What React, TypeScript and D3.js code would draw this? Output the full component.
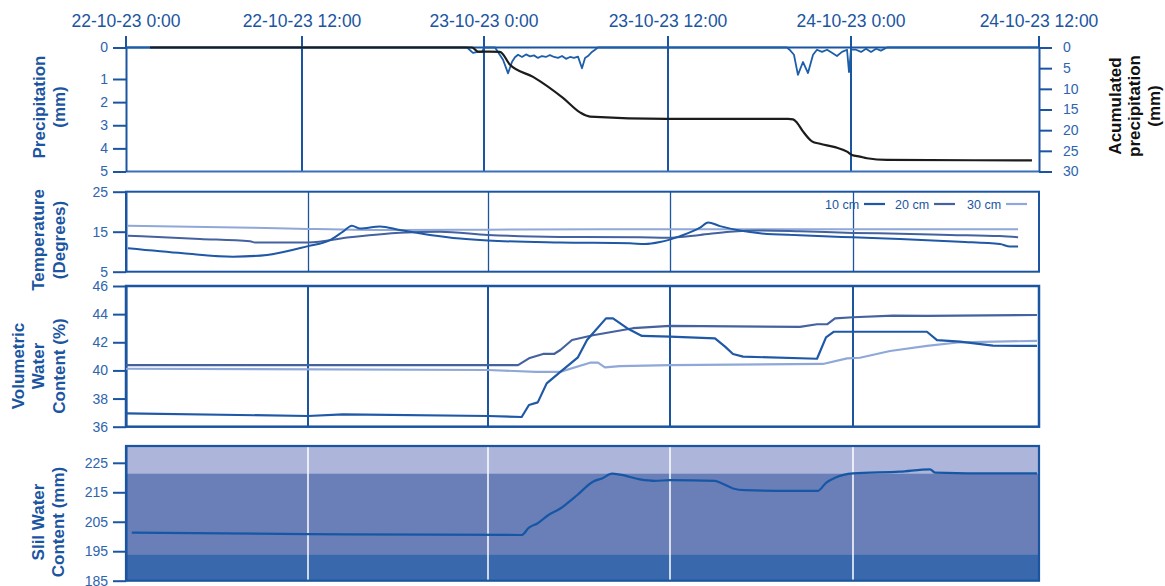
import { useEffect, useRef } from "react";
import * as d3 from "d3";

type Pt = [number, number]; // [hours since 22-10-23 0:00, value]

const timeTicks = [0, 12, 24, 36, 48, 60];
const timeLabels = [
  "22-10-23 0:00",
  "22-10-23 12:00",
  "23-10-23 0:00",
  "23-10-23 12:00",
  "24-10-23 0:00",
  "24-10-23 12:00",
];

// precipitation per interval (mm)
const precipitation: Pt[] = [
  [0, 0], [22.88, 0], [23.27, 0.17], [23.6, 0.14], [23.87, 0.15], [24, 0], [24.72, 0],
  [25.24, 0.39], [25.57, 0.82], [25.83, 0.45], [26.02, 0.31], [26.22, 0.23], [26.48, 0.3],
  [26.74, 0.22], [27.0, 0.28], [27.26, 0.25], [27.52, 0.33], [27.78, 0.27], [28.04, 0.3],
  [28.3, 0.24], [28.57, 0.3], [28.83, 0.33], [29.09, 0.27], [29.35, 0.36], [29.61, 0.3],
  [29.87, 0.33], [30.13, 0.29], [30.39, 0.66], [30.59, 0.33], [30.78, 0.27], [31.04, 0.14],
  [31.24, 0.07], [31.43, 0], [43.8, 0], [43.97, 0.07], [44.26, 0.23], [44.52, 0.87],
  [44.85, 0.46], [45.18, 0.81], [45.51, 0.23], [45.77, 0.07], [46.1, 0.14], [46.43, 0.07],
  [46.75, 0.17], [47.08, 0.27], [47.41, 0.14], [47.74, 0.07], [47.87, 0.78], [48.0, 0.07],
  [48.32, 0.07], [48.64, 0.14], [48.96, 0.04], [49.28, 0.14], [49.6, 0.04], [49.91, 0.1],
  [50.3, 0], [60, 0],
];

// accumulated precipitation (mm)
const accumulated: Pt[] = [
  [1.64, 0], [23.21, 0], [23.6, 1.0], [25.04, 1.04], [25.7, 4.2], [27.2, 7.1], [29.15, 12.2],
  [30.26, 15.7], [30.91, 16.7], [35.93, 17.25], [43.87, 17.25], [44.2, 17.4], [44.46, 18.2],
  [44.85, 20.3], [45.44, 22.7], [45.97, 23.3], [46.95, 24.1], [47.74, 25.2], [48.06, 26.0],
  [48.57, 26.4], [49.02, 26.8], [50.3, 27.2], [59.55, 27.3],
];

// soil temperature (degrees)
const temp10: Pt[] = [
  [0.13, 10.85], [3.76, 9.6], [7.05, 8.75], [9.3, 9.2], [12, 11.4], [13.47, 12.9], [14.33, 15.0],
  [14.93, 16.5], [15.47, 15.8], [16.8, 16.3], [18.13, 15.4], [20.13, 14.2], [22.13, 13.3],
  [24, 12.8], [28.75, 12.3], [33.36, 12.1], [34.35, 11.9], [35.34, 12.4], [36.66, 13.9],
  [37.97, 16.0], [38.5, 17.3], [39.28, 16.4], [40.59, 15.3], [41.9, 14.6], [44.52, 14.1],
  [48, 13.6], [51.03, 13.2], [54.9, 12.5], [57.48, 11.9], [58.13, 11.3], [58.65, 11.3],
];
const temp20: Pt[] = [
  [0.13, 14.0], [4.88, 13.2], [8.18, 12.6], [8.51, 12.3], [12, 12.3], [14.8, 13.6],
  [18.13, 14.75], [20.8, 15.0], [24, 14.2], [28.75, 13.7], [34.02, 13.6], [35.87, 13.5],
  [37.97, 14.2], [39.93, 15.0], [41.9, 15.3], [44.52, 15.1], [48, 14.7], [51.03, 14.5],
  [54.26, 14.2], [57.48, 13.9], [58.65, 13.6],
];
const temp30: Pt[] = [
  [0.13, 16.5], [8.37, 16.0], [12, 15.7], [18.13, 15.4], [24, 15.5], [31.38, 15.6],
  [37.97, 15.6], [48, 15.6], [58.65, 15.6],
];

// volumetric water content (%)
const vwc10: Pt[] = [
  [0, 36.95], [12, 36.76], [14.33, 36.88], [24, 36.76], [26.22, 36.69], [26.7, 37.54],
  [27.28, 37.73], [27.87, 39.08], [28.77, 39.9], [29.93, 40.93], [30.53, 42.16], [31.78, 43.7],
  [32.24, 43.7], [33.17, 43.0], [34.15, 42.45], [36, 42.4], [38.95, 42.28], [39.61, 41.69],
  [40.13, 41.17], [40.79, 40.98], [45.64, 40.83], [46.23, 42.35], [46.75, 42.75], [52.77, 42.75],
  [53.42, 42.16], [54.9, 42.04], [57.03, 41.76], [59.87, 41.74],
];
const vwc20: Pt[] = [
  [0, 40.38], [25.98, 40.38], [26.7, 40.86], [27.63, 41.17], [28.35, 41.17], [28.77, 41.45],
  [29.54, 42.16], [30.92, 42.5], [33.56, 43.0], [36, 43.16], [44.52, 43.1], [45.64, 43.28],
  [46.3, 43.28], [46.82, 43.7], [48, 43.78], [50.58, 43.9], [52.77, 43.87], [59.87, 43.94],
];
const vwc30: Pt[] = [
  [0, 40.12], [24, 40.03], [27.16, 39.9], [28.75, 39.9], [30.73, 40.55], [31.25, 40.55],
  [31.71, 40.22], [32.7, 40.3], [36, 40.38], [46.03, 40.46], [47.61, 40.86], [48.45, 40.9],
  [50.39, 41.38], [52.77, 41.74], [54.9, 42.0], [59.87, 42.1],
];

// soil water content (mm)
const soilWater: Pt[] = [
  [0.38, 201.3], [12, 200.8], [26.22, 200.5], [26.7, 203], [27.28, 204.5], [27.99, 207.3],
  [28.77, 209.5], [29.21, 211.2], [29.87, 214], [30.92, 218.6], [31.52, 219.7], [32.18, 221.3],
  [32.7, 221], [34.02, 219.4], [35.01, 218.9], [36, 219.1], [38.95, 218.9], [39.41, 218],
  [40.13, 216.3], [40.92, 215.7], [43.87, 215.5], [45.7, 215.5], [46.23, 218.2], [46.82, 219.9],
  [48, 221.4], [51.03, 222], [52.97, 222.8], [53.29, 221.7], [57.48, 221.4], [59.87, 221.4],
];
const fieldCapacity = 221.4;
const wiltingPoint = 194;

const seriesNames = ["10 cm", "20 cm", "30 cm"];

const FONT = "'Liberation Sans', Arial, sans-serif";
const BLUE = "#1b55a1";
const TICK_TEXT = "#2d64ae";
const SERIES_COLORS = ["#1f58a6", "#44629f", "#8fa8d8"];

const W = 1165;
const H = 586;

export default function App() {
  const svgRef = useRef<SVGSVGElement>(null);

  useEffect(() => {
    if (!svgRef.current) return;
    const svg = d3.select(svgRef.current);
    svg.selectAll("*").remove();

    const left = 126;
    const right = 1039;
    const intFmt = d3.format("d");

    // top panel and lower panels were laid out a little differently in the original
    const xTop = d3.scaleLinear().domain(timeTicks).range([left, 302, 484, 668, 851, right]);
    const xLow = d3.scaleLinear().domain(timeTicks).range([left, 308, 488, 670, 853, right]);

    const styleAxis = (g: d3.Selection<SVGGElement, unknown, null, undefined>) => {
      g.attr("font-size", 14).attr("font-family", FONT);
      g.select(".domain").attr("stroke", BLUE).attr("stroke-width", 2);
      g.selectAll(".tick line").attr("stroke", BLUE).attr("stroke-width", 2);
      g.selectAll(".tick text").attr("fill", TICK_TEXT);
    };

    const addTitle = (lines: string[], xs: number[], cy: number, color: string) => {
      lines.forEach((t, i) => {
        svg
          .append("text")
          .attr("transform", `translate(${xs[i]},${cy}) rotate(-90)`)
          .attr("text-anchor", "middle")
          .attr("font-family", FONT)
          .attr("font-weight", "bold")
          .attr("font-size", 17)
          .attr("fill", color)
          .text(t);
      });
    };

    // time labels on top
    svg
      .append("g")
      .selectAll("text")
      .data(timeTicks)
      .join("text")
      .attr("x", (d) => xTop(d))
      .attr("y", 27)
      .attr("text-anchor", "middle")
      .attr("font-family", FONT)
      .attr("font-size", 17.5)
      .attr("fill", BLUE)
      .text((d, i) => timeLabels[i]);

    // ---------- panel 1: precipitation ----------
    const p1Top = 47.5;
    const p1Bottom = 171.5;
    const yPrecip = d3.scaleLinear().domain([0, 1, 5]).range([p1Top, 79, p1Bottom]);
    const yAccum = d3.scaleLinear().domain([0, 30]).range([p1Top, p1Bottom]);

    const p1 = svg.append("g");
    p1.selectAll(".tmark")
      .data(timeTicks)
      .join("line")
      .attr("x1", (d) => xTop(d))
      .attr("x2", (d) => xTop(d))
      .attr("y1", 36)
      .attr("y2", (d) => (d === 0 || d === 60 ? p1Top : p1Bottom))
      .attr("stroke", BLUE)
      .attr("stroke-width", 2);
    p1.append("line")
      .attr("x1", left).attr("x2", right).attr("y1", p1Top).attr("y2", p1Top)
      .attr("stroke", BLUE).attr("stroke-width", 2);
    p1.append("line")
      .attr("x1", left).attr("x2", right).attr("y1", p1Bottom).attr("y2", p1Bottom)
      .attr("stroke", "#3a70b8").attr("stroke-width", 2);

    p1.append("g")
      .attr("transform", `translate(${left},0)`)
      .call(
        d3.axisLeft(yPrecip).tickValues([0, 1, 2, 3, 4, 5]).tickFormat(intFmt)
          .tickSize(13).tickSizeOuter(0).tickPadding(5)
      )
      .call(styleAxis);
    p1.append("g")
      .attr("transform", `translate(${right},0)`)
      .call(
        d3.axisRight(yAccum).tickValues([0, 5, 10, 15, 20, 25, 30]).tickFormat(intFmt)
          .tickSize(13).tickSizeOuter(0).tickPadding(11)
      )
      .call(styleAxis);

    p1.append("path")
      .datum(precipitation)
      .attr("fill", "none")
      .attr("stroke", "#1d5ea8")
      .attr("stroke-width", 1.8)
      .attr("stroke-linejoin", "round")
      .attr("d", d3.line<Pt>().x((d) => xTop(d[0])).y((d) => yPrecip(d[1])));

    p1.append("path")
      .datum(accumulated)
      .attr("fill", "none")
      .attr("stroke", "#1c1c1c")
      .attr("stroke-width", 2.2)
      .attr("d", d3.line<Pt>().x((d) => xTop(d[0])).y((d) => yAccum(d[1])).curve(d3.curveMonotoneX));

    addTitle(["Precipitation", "(mm)"], [44.5, 64.5], 107, BLUE);
    addTitle(["Acumulated", "precipitation", "(mm)"], [1120.5, 1140, 1160], 106, "#111111");

    // ---------- panel 2: temperature ----------
    const p2Top = 191.7;
    const p2Bottom = 271.7;
    const yTemp = d3.scaleLinear().domain([5, 25]).range([p2Bottom, p2Top]);
    const p2 = svg.append("g");
    p2.selectAll(".grid")
      .data(timeTicks.slice(1, -1))
      .join("line")
      .attr("x1", (d) => Math.round(xLow(d)) + 0.5).attr("x2", (d) => Math.round(xLow(d)) + 0.5)
      .attr("y1", p2Top).attr("y2", p2Bottom)
      .attr("stroke", BLUE).attr("stroke-width", 1.3);
    p2.append("rect")
      .attr("x", left).attr("y", p2Top).attr("width", right - left).attr("height", p2Bottom - p2Top)
      .attr("fill", "none").attr("stroke", BLUE).attr("stroke-width", 2);
    p2.append("g")
      .attr("transform", `translate(${left},0)`)
      .call(
        d3.axisLeft(yTemp).tickValues([5, 15, 25]).tickFormat(intFmt)
          .tickSize(13).tickSizeOuter(0).tickPadding(5)
      )
      .call(styleAxis);

    const tempLine = d3.line<Pt>().x((d) => xLow(d[0])).y((d) => yTemp(d[1])).curve(d3.curveMonotoneX);
    [temp30, temp20, temp10].forEach((s, i) => {
      p2.append("path")
        .datum(s)
        .attr("fill", "none")
        .attr("stroke", SERIES_COLORS[2 - i])
        .attr("stroke-width", 2)
        .attr("d", tempLine);
    });

    // legend
    const legendX = [825, 895, 967];
    const legend = p2
      .append("g")
      .selectAll("g")
      .data(seriesNames)
      .join("g")
      .attr("transform", (d, i) => `translate(${legendX[i]},204)`);
    legend
      .append("text")
      .attr("y", 4.5)
      .attr("font-family", FONT)
      .attr("font-size", 12.5)
      .attr("fill", BLUE)
      .text((d) => d);
    legend
      .append("line")
      .attr("x1", 39)
      .attr("x2", 60)
      .attr("stroke", (d, i) => SERIES_COLORS[i])
      .attr("stroke-width", 2.2);

    addTitle(["Temperature", "(Degrees)"], [44, 64.5], 240, BLUE);

    // ---------- panel 3: volumetric water content ----------
    const p3Top = 286;
    const p3Bottom = 426.7;
    const yVwc = d3.scaleLinear().domain([36, 46]).range([p3Bottom, p3Top]);
    const p3 = svg.append("g");
    p3.selectAll(".grid")
      .data(timeTicks.slice(1, -1))
      .join("line")
      .attr("x1", (d) => xLow(d)).attr("x2", (d) => xLow(d))
      .attr("y1", p3Top).attr("y2", p3Bottom)
      .attr("stroke", BLUE).attr("stroke-width", 2);
    p3.append("rect")
      .attr("x", left).attr("y", p3Top).attr("width", right - left).attr("height", p3Bottom - p3Top)
      .attr("fill", "none").attr("stroke", BLUE).attr("stroke-width", 2.5);
    p3.append("g")
      .attr("transform", `translate(${left},0)`)
      .call(
        d3.axisLeft(yVwc).tickValues([36, 38, 40, 42, 44, 46]).tickFormat(intFmt)
          .tickSize(13).tickSizeOuter(0).tickPadding(5)
      )
      .call(styleAxis);

    const vwcLine = d3.line<Pt>().x((d) => xLow(d[0])).y((d) => yVwc(d[1]));
    [vwc30, vwc20, vwc10].forEach((s, i) => {
      p3.append("path")
        .datum(s)
        .attr("fill", "none")
        .attr("stroke", SERIES_COLORS[2 - i])
        .attr("stroke-width", 2.2)
        .attr("stroke-linejoin", "round")
        .attr("d", vwcLine);
    });

    addTitle(["Volumetric", "Water", "Content (%)"], [23.5, 44, 64.5], 366, BLUE);

    // ---------- panel 4: soil water content ----------
    const p4Top = 446;
    const p4Bottom = 580.7;
    const ySoil = d3.scaleLinear().domain([185, 230.7]).range([p4Bottom, p4Top]);
    const p4 = svg.append("g");
    const bands = [
      { from: 230.7, to: fieldCapacity, color: "#adb6da" },
      { from: fieldCapacity, to: wiltingPoint, color: "#6a7fb8" },
      { from: wiltingPoint, to: 185, color: "#3a68ac" },
    ];
    p4.selectAll(".band")
      .data(bands)
      .join("rect")
      .attr("x", left)
      .attr("width", right - left)
      .attr("y", (d) => ySoil(d.from))
      .attr("height", (d) => ySoil(d.to) - ySoil(d.from))
      .attr("fill", (d) => d.color);
    p4.selectAll(".grid")
      .data(timeTicks.slice(1, -1))
      .join("line")
      .attr("x1", (d) => xLow(d)).attr("x2", (d) => xLow(d))
      .attr("y1", p4Top).attr("y2", p4Bottom)
      .attr("stroke", "#ffffff").attr("stroke-width", 1.5);
    p4.append("path")
      .datum(soilWater)
      .attr("fill", "none")
      .attr("stroke", "#1657a5")
      .attr("stroke-width", 2.2)
      .attr("d", d3.line<Pt>().x((d) => xLow(d[0])).y((d) => ySoil(d[1])).curve(d3.curveMonotoneX));
    p4.append("rect")
      .attr("x", left).attr("y", p4Top).attr("width", right - left).attr("height", p4Bottom - p4Top)
      .attr("fill", "none").attr("stroke", BLUE).attr("stroke-width", 2.2);
    p4.append("g")
      .attr("transform", `translate(${left},0)`)
      .call(
        d3.axisLeft(ySoil).tickValues([185, 195, 205, 215, 225]).tickFormat(intFmt)
          .tickSize(13).tickSizeOuter(0).tickPadding(5)
      )
      .call(styleAxis);

    addTitle(["Slil Water", "Content (mm)"], [43.5, 64], 522, BLUE);
  }, []);

  return (
    <svg
      ref={svgRef}
      width={W}
      height={H}
      style={{ position: "absolute", left: 0, top: 0, background: "#fff" }}
    />
  );
}
